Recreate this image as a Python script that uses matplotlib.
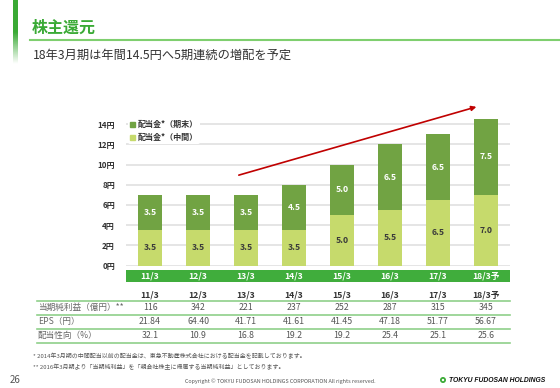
import matplotlib
matplotlib.use('Agg')
import matplotlib.pyplot as plt
import matplotlib.transforms as mtransforms
from matplotlib.patches import Rectangle, Circle
import numpy as np

plt.rcParams['font.family'] = ['Noto Sans CJK JP', 'DejaVu Sans']

# データ
years = ['11/3', '12/3', '13/3', '14/3', '15/3', '16/3', '17/3', '18/3予']
interim = [3.5, 3.5, 3.5, 3.5, 5.0, 5.5, 6.5, 7.0]
year_end = [3.5, 3.5, 3.5, 4.5, 5.0, 6.5, 6.5, 7.5]
net_income = ['116', '342', '221', '237', '252', '287', '315', '345']
eps = ['21.84', '64.40', '41.71', '41.61', '41.45', '47.18', '51.77', '56.67']
payout = ['32.1', '10.9', '16.8', '19.2', '19.2', '25.4', '25.1', '25.6']
row_names = ['当期純利益（億円）**', 'EPS（円）', '配当性向（%）']
yticks = [0, 2, 4, 6, 8, 10, 12, 14]

c_dark = '#71a343'
c_light = '#c6da6c'
c_band = '#40ad3c'
c_title = '#3aaa35'
c_line = '#8fd08a'

fig = plt.figure(figsize=(5.6, 3.88), dpi=100, facecolor='white')

# ページ全体 (ピクセル座標)
over = fig.add_axes([0, 0, 1, 1])
over.set_xlim(0, 560)
over.set_ylim(388, 0)
over.axis('off')

# 左の縦バー (グラデーション)
grad = np.linspace(0, 1, 100).reshape(-1, 1)
cmap = matplotlib.colors.LinearSegmentedColormap.from_list('g', ['#3aaa35', '#3aaa35', 'white'])
over.imshow(grad, extent=(13, 18, 64, 0), cmap=cmap, aspect='auto', zorder=1)

over.text(32, 28, '株主還元', fontsize=11.5, fontweight='bold', color=c_title, va='center')
over.plot([30, 560], [40, 40], color='#7fcf6f', lw=1.5)
over.text(33, 55, '18年3月期は年間14.5円へ5期連続の増配を予定', fontsize=8.8,
          color='#333333', va='center')

# グラフ
ax = fig.add_axes([126 / 560, 1 - 265.7 / 388, 384 / 560, 161.9 / 388])
ax.set_facecolor('none')
x = np.arange(len(years))
b1 = ax.bar(x, interim, width=0.5, color=c_light, zorder=3)
b2 = ax.bar(x, year_end, bottom=interim, width=0.5, color=c_dark, zorder=3)
ax.bar_label(b1, labels=[f'{v:.1f}' for v in interim], label_type='center',
             fontsize=6.2, fontweight='bold', color='#3a3a3a')
ax.bar_label(b2, labels=[f'{v:.1f}' for v in year_end], label_type='center',
             fontsize=6.2, fontweight='bold', color='white')
ax.set_xlim(-0.5, len(years) - 0.5)
ax.set_ylim(0, 16)
ax.set_yticks(yticks)
ax.set_yticklabels([f'{v}円' for v in yticks], fontsize=5.8, fontweight='bold', color='#333333')
ax.set_xticks([])
ax.tick_params(axis='y', length=0, pad=8)
ax.grid(axis='y', color='#e3e3e3', lw=1.3, zorder=0)
for s in ax.spines.values():
    s.set_visible(False)

# 凡例
h2 = Rectangle((0, 0), 1, 1, color=c_dark)
h1 = Rectangle((0, 0), 1, 1, color=c_light)
leg = ax.legend([h2, h1], ['配当金*（期末）', '配当金*（中間）'], loc='upper left',
                bbox_to_anchor=(-0.005, 0.935), fontsize=5.8, frameon=True,
                facecolor='white', edgecolor='none', framealpha=1,
                handlelength=0.6, handleheight=0.6, handletextpad=0.4,
                labelspacing=0.5, borderpad=0.2)
for t in leg.get_texts():
    t.set_color('#333333')
    t.set_fontweight('bold')

# 矢印
ax.annotate('', xy=(6.8, 15.7), xytext=(1.85, 8.95),
            arrowprops=dict(arrowstyle='-|>', color='#c00000', lw=1.2,
                            mutation_scale=7, shrinkA=0, shrinkB=0),
            annotation_clip=False)

# 年度バンドと表 (x はデータ座標, y はピクセル)
tr = mtransforms.blended_transform_factory(ax.transData, over.transData)
for i, yr in enumerate(years):
    over.add_patch(Rectangle((i - 0.49, 270), 0.98, 12, transform=tr,
                             facecolor=c_band, edgecolor='none', clip_on=False))
    over.text(i, 276, yr, transform=tr, ha='center', va='center',
              fontsize=6.3, fontweight='bold', color='white')
    over.text(i, 295, yr, transform=tr, ha='center', va='center',
              fontsize=6.3, fontweight='bold', color='#333333')

table_rows = [net_income, eps, payout]
row_y = [307.5, 321.5, 335.5]
for name, vals, yy in zip(row_names, table_rows, row_y):
    over.text(38, yy, name, fontsize=6.2, color='#666666', va='center')
    for i, v in enumerate(vals):
        over.text(i, yy, v, transform=tr, ha='center', va='center',
                  fontsize=6.3, color='#555555')
for yy in [300.5, 314.5, 328.5, 342.5]:
    over.plot([37, 510], [yy, yy], color=c_line, lw=1.2)

# 注記
over.text(33, 356, '* 2014年3月期の中間配当以前の配当金は、東急不動産株式会社における配当金を記載しております。',
          fontsize=4.3, color='#555555', va='center')
over.text(33, 367, '** 2016年3月期より「当期純利益」を「親会社株主に帰属する当期純利益」としております。',
          fontsize=4.3, color='#555555', va='center')

# フッター
over.text(10, 380, '26', fontsize=7, color='#555555', va='center')
over.text(280, 381, 'Copyright © TOKYU FUDOSAN HOLDINGS CORPORATION All rights reserved.',
          fontsize=3.9, color='#555555', ha='center', va='center')
over.add_patch(Circle((443, 380), 3, facecolor='#3aaa35', edgecolor='none'))
over.add_patch(Circle((443, 380), 1.2, facecolor='white', edgecolor='none'))
over.text(449, 380, 'TOKYU FUDOSAN HOLDINGS', fontsize=4.9, fontweight='bold',
          style='italic', color='#111111', va='center', family='Liberation Sans')

fig.savefig('out.png', dpi=100, facecolor='white')
